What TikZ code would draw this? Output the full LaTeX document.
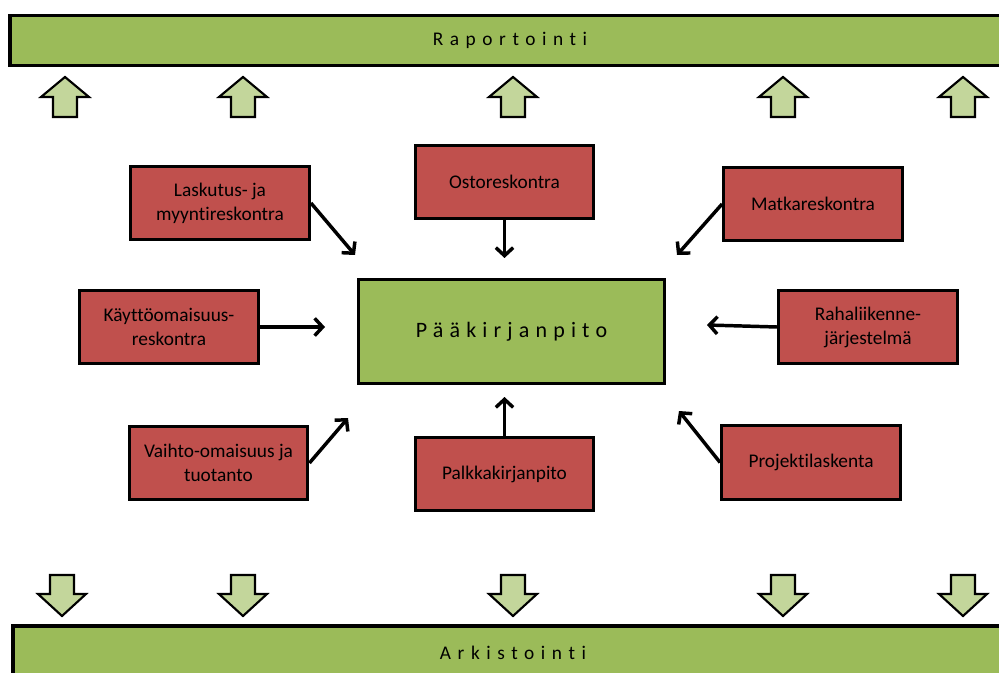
\documentclass[tikz,border=0pt]{standalone}
\usepackage{fontspec}
\setmainfont{Carlito}[Ligatures=NoCommon]
\newfontfamily\spacedfont[LetterSpace=28, Ligatures=NoCommon]{Carlito}
\newfontfamily\barfont[LetterSpace=34, Ligatures=NoCommon]{Carlito}
\usetikzlibrary{arrows.meta}
\definecolor{box-red}{HTML}{C0504D}
\definecolor{box-green}{HTML}{9BBB59}
\definecolor{arrow-green}{HTML}{C3D69B}

\begin{document}
\begin{tikzpicture}[x=0.75pt, y=-0.75pt,
    sub/.style={draw, line width=2.4pt, fill=box-red, minimum width=134pt, minimum height=55pt,
      align=center, font=\fontsize{14.5}{18}\selectfont},
    core/.style={draw, line width=2.4pt, fill=box-green, minimum width=229.5pt, minimum height=78pt,
      font=\fontsize{16.5}{20}\spacedfont},
    bar/.style={draw, line width=2.4pt, fill=box-green, minimum width=750pt, minimum height=38pt,
      font=\fontsize{14.5}{18}\barfont},
    feed/.style={line width=2.6pt, -{Straight Barb[length=6pt, width=13pt]}},
    block/.style={draw, line width=1.6pt, fill=arrow-green, line join=miter}]
    \useasboundingbox (0,0) rectangle (999,673);
    \node[bar] (raportointi) at (510,40.5) {Raportointi};
    \node[bar, minimum height=40.5pt] (arkistointi) at (513,653) {Arkistointi};
    \foreach \cx in {65, 243, 513, 783, 963}
      \draw[block] (\cx,77) -- (\cx+24,97) -- (\cx+12,97) -- (\cx+12,117) -- (\cx-12,117) -- (\cx-12,97) -- (\cx-24,97) -- cycle;
    \foreach \cx in {62, 243, 513, 783, 963}
      \draw[block] (\cx,616) -- (\cx+24,594) -- (\cx+12,594) -- (\cx+12,575) -- (\cx-12,575) -- (\cx-12,594) -- (\cx-24,594) -- cycle;
    \node[core] (paakirja) at (511.5,331.5) {Pääkirjanpito};
    \node[sub] (laskutus) at (220,203) {Laskutus- ja\\myyntireskontra};
    \node[sub] (osto) at (504.5,182) {Ostoreskontra};
    \node[sub] (matka) at (813,204) {Matkareskontra};
    \node[sub] (kaytto) at (169,327) {Käyttöomaisuus-\\reskontra};
    \node[sub] (raha) at (868,327) {Rahaliikenne-\\järjestelmä};
    \node[sub] (vaihto) at (218.5,463) {Vaihto-omaisuus ja\\tuotanto};
    \node[sub] (palkka) at (504.5,474) {Palkkakirjanpito};
    \node[sub] (projekti) at (811,462.5) {Projektilaskenta};
    % arrow ends stop short of the main box
    \coordinate (laskutus-in) at (355,255);
    \coordinate (osto-in) at (504.5,258);
    \coordinate (matka-in) at (677,255);
    \coordinate (kaytto-in) at (325,327);
    \coordinate (raha-in) at (707,325);
    \coordinate (vaihto-in) at (348,418);
    \coordinate (palkka-in) at (504.5,397);
    \coordinate (projekti-in) at (679,411);
    \draw[feed] (laskutus.east) -- (laskutus-in);
    \draw[feed] (osto.south) -- (osto-in);
    \draw[feed] (matka.west) -- (matka-in);
    \draw[feed] (kaytto.east) -- (kaytto-in);
    \draw[feed] (raha.west) -- (raha-in);
    \draw[feed] (vaihto.east) -- (vaihto-in);
    \draw[feed] (palkka.north) -- (palkka-in);
    \draw[feed] (projekti.west) -- (projekti-in);
  \end{tikzpicture}
\end{document}
